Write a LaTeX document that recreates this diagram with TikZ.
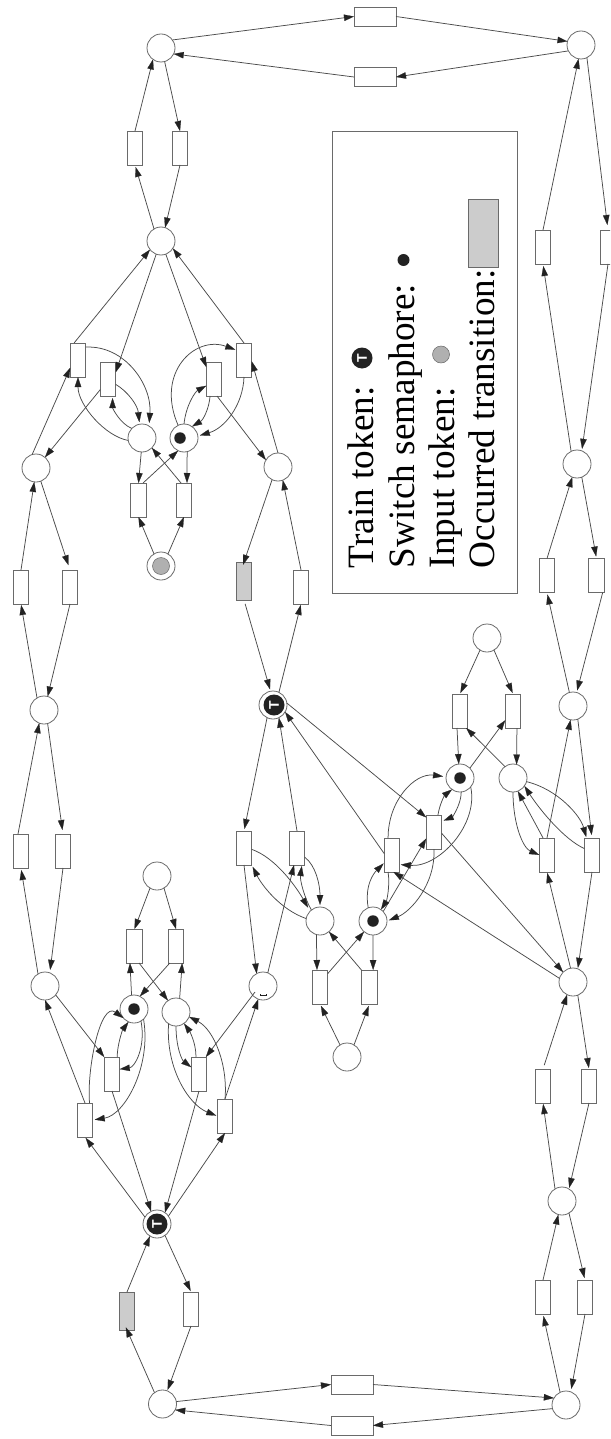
\documentclass[tikz,border=0pt]{standalone}
\usepackage{fontspec}
\setmainfont{Liberation Serif}
\newfontfamily\tokfont{Liberation Sans}
\usetikzlibrary{arrows.meta}
\definecolor{lin}{HTML}{4A4A4A}
\definecolor{edgeb}{HTML}{6A6A6A}
\definecolor{tipc}{HTML}{222222}
\definecolor{fired}{HTML}{CCCCCC}
\definecolor{inp}{HTML}{B0B0B0}
\tikzset{
  place/.style={circle,draw=edgeb,line width=.8pt,fill=white,minimum size=28pt,inner sep=0,outer sep=0},
  trans/.style={rectangle,draw=edgeb,line width=.8pt,fill=white,minimum width=15.5pt,minimum height=34pt,inner sep=0,outer sep=0},
  htrans/.style={rectangle,draw=edgeb,line width=.8pt,fill=white,minimum width=42pt,minimum height=19pt,inner sep=0,outer sep=0},
  firedt/.style={trans,fill=fired,minimum height=38pt},
  semtok/.style={circle,fill=tipc,minimum size=11.5pt,inner sep=0,outer sep=0},
  inptok/.style={circle,fill=inp,draw=edgeb,line width=.5pt,minimum size=17pt,inner sep=0,outer sep=0},
  traintok/.style={circle,fill=tipc,text=white,minimum size=21pt,inner sep=0,outer sep=0,font=\tokfont\bfseries\fontsize{14}{14}\selectfont,rotate=90},
  arc/.style={draw=lin,line width=.75pt,-{Triangle[length=10pt,width=6.5pt,color=tipc,fill=tipc,line width=.2pt]}},
  gp/.style={shorten >=#1},
  legtext/.style={rotate=90,anchor=base west,inner sep=0,outer sep=0,text=black,font=\fontsize{37.2}{40}\selectfont}
}
\begin{document}
\begin{tikzpicture}[x=1pt,y=-1pt]
\clip (0,0) rectangle (610,1439);
% legend
\node[draw=edgeb,line width=.8pt,rectangle,inner sep=0,outer sep=0,minimum width=185pt,minimum height=462pt] (legend) at (424.5,362.5) {};
\node[legtext] (l1) at (373,568) {Train token:};
\node[legtext] (l2) at (414,568) {Switch semaphore:};
\node[legtext] (l3) at (454,568) {Input token:};
\node[legtext] (l4) at (494,568) {Occurred transition:};
\node[traintok] (l5) at (362,358) {T};
\node[semtok,minimum size=12pt] (l6) at (403.5,260) {};
\node[inptok] (l7) at (441,354.5) {};
\node[firedt,minimum width=30pt,minimum height=68pt] (l8) at (483,233.5) {};
% places
\foreach \n/\x/\y in {p1/161/48,p2/161/241,p3/142/438,s1/184/438,p4/36/468,p5/278/467,I/161/566,
  p6/44/710,p7/273/705,p8/157/876,p9/45/986,p10/263/986,s2/134/1009,p11/176/1012,p12/157/1224,
  p13/162.5/1404,p14/566/1405,p15/562/1201,p16/573/982,p17/347/1057,p18/320/921,s3/373/921,
  s4/460/778,p19/513/778,p20/487/638,p21/573/706,p22/581/45,p23/577/464}
  \node[place] (\n) at (\x,\y) {};
% tokens
\node[semtok] (k1) at (180,438) {};
\node[semtok] (k2) at (134,1009) {};
\node[semtok] (k3) at (373,921) {};
\node[semtok] (k4) at (460,778) {};
\node[inptok] (k5) at (161,566) {};
\node[traintok] (k6) at (274,705) {T};
\node[traintok] (k7) at (157,1224) {T};
% transitions
\foreach \n/\x/\y in {t1/135/148,t2/180/148,t3/78/360,t4/108/379,t5/214/379,t6/244/360,
  t7/138.5/500,t8/184/500,t9/21/587,t10/70/587,t12/301/587,t13/21/851,t14/63/851,
  t15/244/848,t16/297/848,t17/134.5/946,t18/176/946,t19/112/1074,t20/199/1074,t21/85/1120,t22/225/1116,
  t24/191/1309,t27/543/1297,t28/585/1297,t29/543/1086,t30/589/1086,t31/320/987,t32/369.5/987,
  t33/392/855,t34/434/832,t35/460/711,t36/513/711,t37/547/855,t38/592/855,t41/543/247,t42/608/247,
  t43/547/575.5,t44/596.5/575.5}
  \node[trans] (\n) at (\x,\y) {};
\node[firedt] (t11) at (244,581) {};
\node[firedt] (t23) at (127,1311) {};
\node[htrans] (t25) at (352,1384.5) {};
\node[htrans] (t26) at (352,1425.5) {};
\node[htrans] (t39) at (375,16.5) {};
\node[htrans] (t40) at (375,77) {};
% mark inside p10
\draw[line width=.9pt,color=tipc] (260,994) -- (260,995.5) -- (266.5,995.5) -- (266.5,994);
\coordinate (pm) at (255,992);
% straight arcs
\draw[arc] (t1.north) -- (p1.-125);
\draw[arc] (p1.-75) -- (t2.north);
\draw[arc] (t2.south) -- (p2.73);
\draw[arc,gp=2] (p2.120) -- (t1.south);
\draw[arc] (t3.103) -- (p2.218);
\draw[arc] (p2.-110) -- (t4.41);
\draw[arc] (p2.-70) -- (t5.123);
\draw[arc] (t6.north) -- (p2.-32);
\draw[arc] (p3.-93) -- (t7.north);
\draw[arc] (s1.-77) -- (t8.80);
\draw[arc] (t8.100) -- (p3.-45);
\draw[arc] (t7.75) -- (s1.-115);
\draw[arc] (t5.-80) -- (p5.150);
\draw[arc] (p5.90) -- (t6.-10);
\draw[arc] (p4.106) -- (t3.225);
\draw[arc] (t4.234) -- (p4.50);
\draw[arc] (I.120) -- (t7.south);
\draw[arc] (I.60) -- (t8.south);
\draw[arc] (t9.north) -- (p4.-97);
\draw[arc,gp=5] (p4.-70) -- (t10.north);
\draw[arc] (t10.south) -- (p6.75);
\draw[arc,gp=1] (p6.120) -- (t9.south);
\draw[arc,shorten >=-3pt] (p5.-115) -- (t11.north);
\draw[arc] (t12.north) -- (p5.-70);
\draw[arc,shorten <=4pt,gp=2] (t11.south) -- (p7.100);
\draw[arc,gp=1] (p7.65) -- (t12.south);
\draw[arc] (t13.100) -- (p6.-110);
\draw[arc,gp=4] (p6.-75) -- (t14.north);
\draw[arc,gp=3] (t14.south) -- (p9.70);
\draw[arc,gp=2] (p9.120) -- (t13.south);
\draw[arc] (p8.-120) -- (t17.north);
\draw[arc] (p8.-60) -- (t18.north);
\draw[arc,gp=2] (p7.-115) -- (t15.north);
\draw[arc] (t16.north) -- (p7.-65);
\draw[arc] (t15.south) -- (p10.117);
\draw[arc] (p10.70) -- (t16.-100);
\draw[arc] (s2.100) -- (t17.-105);
\draw[arc] (t18.-110) -- (s2.65);
\draw[arc] (t17.-75) -- (p11.125);
\draw[arc] (p11.75) -- (t18.-70);
\draw[arc] (t21.north) -- (p9.-90);
\draw[arc] (p9.-40) -- (t19.north west);
\draw[arc] (t22.north) -- (p10.-110);
\draw[arc] (pm) -- (t20.68);
\draw[arc,gp=1] (p12.150) -- (t21.south);
\draw[arc] (t19.south) -- (p12.115);
\draw[arc] (t20.south) -- (p12.55);
\draw[arc] (p12.35) -- (t22.south);
\draw[arc] (t23.north) -- (p12.-120);
\draw[arc,gp=1] (p12.-55) -- (t24.north);
\draw[arc,shorten >=-3pt] (p13.125) -- (t23.south);
\draw[arc,gp=1] (t24.south) -- (p13.70);
\draw[arc] (p13.10) -- (t25.west);
\draw[arc] (t26.west) -- (p13.-25);
\draw[arc] (t25.east) -- (p14.150);
\draw[arc] (p14.-165) -- (t26.east);
\draw[arc,gp=3] (t28.south) -- (p14.70);
\draw[arc,gp=2] (p14.115) -- (t27.south);
\draw[arc] (t27.north) -- (p15.-105);
\draw[arc,gp=2] (p15.-60) -- (t28.north);
\draw[arc,gp=1] (t30.south) -- (p15.60);
\draw[arc,gp=1] (p15.120) -- (t29.south);
\draw[arc,shorten <=4pt] (t29.north) -- (p16.-115);
\draw[arc,gp=1] (p16.-70) -- (t30.north);
\draw[arc,gp=1] (p16.100) -- (t37.south);
\draw[arc,gp=1] (t38.south) -- (p16.70);
\draw[arc] (t37.north) -- (p21.-100);
\draw[arc,gp=3] (p21.-70) -- (t38.north);
\draw[arc,gp=2] (t44.-70) -- (p21.75);
\draw[arc,gp=2] (p21.105) -- (t43.south);
\draw[arc] (t43.north) -- (p23.-110);
\draw[arc,gp=2] (p23.-70) -- (t44.north);
\draw[arc,gp=2] (t42.south) -- (p23.70);
\draw[arc,gp=2] (p23.115) -- (t41.south);
\draw[arc] (t41.north) -- (p22.-100);
\draw[arc,gp=5] (p22.-65) -- (t42.north);
\draw[arc] (p1.35) -- (t39.west);
\draw[arc] (t39.east) -- (p22.165);
\draw[arc] (p22.-155) -- (t40.east);
\draw[arc] (t40.west) -- (p1.-25);
% semaphores, straight
\draw[arc] (p18.-105) -- (t31.100);
\draw[arc] (s3.-90) -- (t32.78);
\draw[arc] (t31.60) -- (s3.-130);
\draw[arc] (t32.115) -- (p18.-50);
\draw[arc,gp=2] (p17.120) -- (t31.south);
\draw[arc,gp=2] (p17.60) -- (t32.south);
\draw[arc] (s3.43) -- (t34.-140);
\draw[arc] (t33.170) -- (p7.-30);
\draw[arc] (p7.8) -- (t34.118);
\draw[arc] (t34.-10) -- (p16.135);
\draw[arc] (p16.165) -- (t33.-85);
\draw[arc] (t35.-100) -- (s4.95);
\draw[arc] (t36.-77) -- (p19.75);
\draw[arc] (s4.45) -- (t36.-130);
\draw[arc] (p19.125) -- (t35.-70);
\draw[arc,gp=1] (p20.-120) -- (t35.north);
\draw[arc,gp=1] (p20.-60) -- (t36.north);
\draw[arc] (t37.103) -- (p19.-70);
% curved arcs, top switch
\draw[arc] (p3.190) .. controls +(-23,-4) and +(0,28) .. (t3.south);
\draw[arc,gp=3] (t3.59) .. controls +(39,-2) and +(3,-41) .. (p3.60);
\draw[arc,gp=2] (p3.137) .. controls +(-12,-5) and +(0,12) .. (t4.-75);
\draw[arc,gp=2] (t4.-35) .. controls +(12,7) and +(-2,-19) .. (p3.100);
\draw[arc,gp=2] (t6.south) .. controls +(-1,28) and +(27,-8) .. (s1.8);
\draw[arc,gp=1] (s1.115) .. controls +(-23,-53) and +(-41,-15) .. (t6.128);
\draw[arc] (s1.90) .. controls +(2,-19) and +(-11,6) .. (t5.221);
\draw[arc] (t5.-103) .. controls +(-1,13) and +(11,-6.5) .. (s1.55);
% middle group
\draw[arc,gp=4] (t15.-10) .. controls +(23,8) and +(-15,-26) .. (p18.135);
\draw[arc,gp=2] (p18.170) .. controls +(-26,-9) and +(10,20) .. (t15.south east);
\draw[arc,gp=2] (t16.-50) .. controls +(11,8) and +(0,-22) .. (p18.90);
\draw[arc,gp=1] (p18.128) .. controls +(-7,-12) and +(-2,15) .. (t16.-74);
\draw[arc,gp=1] (s3.110) .. controls +(-4,-23) and +(-10,10) .. (t33.225);
\draw[arc] (t33.-103) .. controls +(2,13) and +(6,-9.5) .. (s3.55);
\draw[arc,gp=2] (t34.south) .. controls +(1.5,36) and +(23,-9) .. (s3.0);
\draw[arc,gp=3] (t33.103) .. controls +(0,-38) and +(-31,-4) .. (s4.175);
\draw[arc,gp=1] (s4.-40) .. controls +(8,38) and +(39,3) .. (t33.-51);
\draw[arc,gp=2] (s4.-85) .. controls +(0,13) and +(10,-4) .. (t34.54);
\draw[arc] (t34.77) .. controls +(2,-12) and +(-7,5.5) .. (s4.-125);
\draw[arc] (p19.-90) .. controls +(0,33) and +(-16,-7) .. (t37.west);
\draw[arc] (t38.140) .. controls +(-20,-9) and +(15.5,24) .. (p19.-35);
\draw[arc,gp=1] (p19.-15) .. controls +(32,8) and +(-6,-22) .. (t38.108);
% bottom switch
\draw[arc] (t21.75) .. controls +(-3,-33) and +(-23,-17) .. (s2.220);
\draw[arc,gp=2] (s2.-47) .. controls +(8,47) and +(32,-5) .. (t21.east);
\draw[arc] (t19.73) .. controls +(0,-12) and +(-6,8) .. (s2.-113);
\draw[arc] (s2.-60) .. controls +(5,26) and +(15,-2) .. (t19.32);
\draw[arc,gp=1] (p11.-122) .. controls +(-3,45) and +(-28,-11) .. (t22.west);
\draw[arc] (t22.north) .. controls +(3,-34) and +(25,13) .. (p11.-20);
\draw[arc] (p11.-90) .. controls +(0,22) and +(-9,-7) .. (t20.139);
\draw[arc] (t20.100) .. controls +(0,-15) and +(5,7) .. (p11.-55);
\end{tikzpicture}
\end{document}
